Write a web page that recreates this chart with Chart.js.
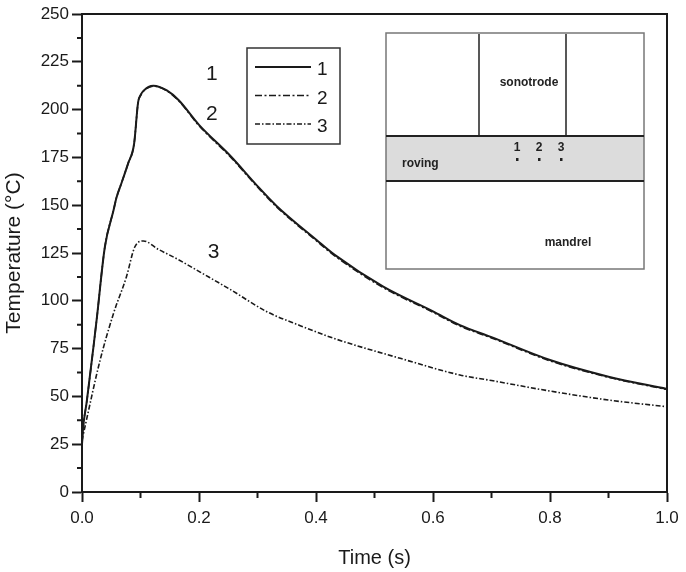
<!DOCTYPE html>
<html>
<head>
<meta charset="utf-8">
<script src="https://cdn.jsdelivr.net/npm/chart.js@4.4.1/dist/chart.umd.min.js"></script>
<style>
  body { margin: 0; background: #fff; }
  canvas { display: block; }
</style>
</head>
<body>
<canvas id="myChart" width="686" height="572"></canvas>
<script>
// Данные
let time1 = [0, 0.002, 0.008, 0.02, 0.025, 0.039, 0.054, 0.059, 0.068, 0.079, 0.089, 0.096, 0.1, 0.105, 0.122, 0.145, 0.165, 0.2, 0.253, 0.3, 0.333, 0.401, 0.432, 0.515, 0.6, 0.646, 0.7, 0.8, 0.9, 1.0];
let temp1 = [25, 34, 47, 77, 90, 128, 147.5, 154, 162, 172, 182, 204, 207.5, 209.8, 212.5, 210, 205, 192, 176, 160, 149.5, 131.8, 124, 107.4, 94.5, 87.3, 81, 69, 60.3, 53.9];
let temp2 = [25, 34, 47, 77, 90, 128, 147.5, 154, 162, 172, 182, 204, 207.3, 209.6, 212.3, 209.8, 204.7, 191.6, 175.5, 159.5, 149, 131.3, 123.5, 106.9, 94, 86.8, 80.6, 68.6, 60, 53.6];
let time3 = [0, 0.005, 0.031, 0.054, 0.076, 0.09, 0.105, 0.13, 0.165, 0.202, 0.253, 0.316, 0.373, 0.43, 0.544, 0.646, 0.7, 0.8, 0.9, 1.0];
let temp3 = [27, 34, 69, 93.5, 112.6, 128, 131.3, 127, 121.5, 115, 106, 94.3, 87, 80.4, 69.9, 61.2, 58.3, 52.8, 48.1, 44.6];
let seriesNames = ['1', '2', '3'];
let xTicks = [0, 0.2, 0.4, 0.6, 0.8, 1.0];
let yTicks = [0, 25, 50, 75, 100, 125, 150, 175, 200, 225, 250];
// Подписи кривых на поле графика
let curveLabels = [
  { text: '1', x: 0.222, y: 218.5 },
  { text: '2', x: 0.222, y: 197.5 },
  { text: '3', x: 0.225, y: 125.5 }
];

let canvasFirst = document.querySelector('#myChart');
let contextFirst = canvasFirst.getContext('2d');
let fontName = '"Liberation Sans", Arial, sans-serif';
let ink = '#1a1a1a';

let toPoints = (xs, ys) => xs.map((x, i) => ({ x: x, y: ys[i] }));

let dashes = [[], [7, 2.5, 2, 2.5], [5, 2, 1.5, 2]];

let extras = {
  id: 'extras',
  afterDraw(chart) {
    let ctx = chart.ctx;
    let a = chart.chartArea;
    let xs = chart.scales.x;
    let ys = chart.scales.y;
    ctx.save();
    // рамка
    ctx.strokeStyle = ink;
    ctx.lineWidth = 2;
    ctx.beginPath();
    ctx.moveTo(a.left, a.top);
    ctx.lineTo(a.right, a.top);
    ctx.lineTo(a.right, a.bottom);
    ctx.stroke();
    // мелкие деления
    ctx.beginPath();
    for (let v = 12.5; v < 250; v += 25) {
      let py = ys.getPixelForValue(v);
      ctx.moveTo(a.left - 5, py);
      ctx.lineTo(a.left, py);
    }
    for (let v = 0.1; v < 1; v += 0.2) {
      let px = xs.getPixelForValue(v);
      ctx.moveTo(px, a.bottom);
      ctx.lineTo(px, a.bottom + 6);
    }
    ctx.stroke();

    // подписи кривых
    ctx.fillStyle = ink;
    ctx.font = '21px ' + fontName;
    ctx.textAlign = 'center';
    ctx.textBaseline = 'middle';
    curveLabels.forEach(l => {
      ctx.fillText(l.text, xs.getPixelForValue(l.x), ys.getPixelForValue(l.y));
    });

    // легенда
    ctx.strokeStyle = '#333';
    ctx.lineWidth = 1.5;
    ctx.strokeRect(247, 48, 93, 96);
    ctx.font = '19px ' + fontName;
    ctx.textAlign = 'left';
    chart.data.datasets.forEach((ds, i) => {
      let ly = 67 + i * 28.5;
      ctx.strokeStyle = ink;
      ctx.lineWidth = ds.borderWidth;
      ctx.setLineDash(ds.borderDash);
      ctx.beginPath();
      ctx.moveTo(255, ly);
      ctx.lineTo(311, ly);
      ctx.stroke();
      ctx.setLineDash([]);
      ctx.fillText(ds.label, 317, ly + 3);
    });

    // схема
    ctx.fillStyle = '#dcdcdc';
    ctx.fillRect(386, 136, 258, 45);
    ctx.strokeStyle = '#777';
    ctx.lineWidth = 1.5;
    ctx.strokeRect(386, 33, 258, 236);
    ctx.strokeStyle = '#222';
    ctx.lineWidth = 2;
    ctx.beginPath();
    ctx.moveTo(386, 136); ctx.lineTo(644, 136);
    ctx.moveTo(386, 181); ctx.lineTo(644, 181);
    ctx.stroke();
    ctx.lineWidth = 1.5;
    ctx.beginPath();
    ctx.moveTo(479, 34); ctx.lineTo(479, 136);
    ctx.moveTo(566, 34); ctx.lineTo(566, 136);
    ctx.stroke();
    ctx.fillStyle = '#222';
    ctx.font = 'bold 12px ' + fontName;
    ctx.textAlign = 'center';
    ctx.fillText('sonotrode', 529, 83);
    ctx.fillText('mandrel', 568, 243);
    ctx.textAlign = 'left';
    ctx.fillText('roving', 402, 164);
    ctx.textAlign = 'center';
    [517, 539, 561].forEach((px, i) => {
      ctx.fillText(seriesNames[i], px, 148);
      ctx.fillRect(px - 1, 158, 2.5, 3);
    });
    ctx.restore();
  }
};

let config = {
  type: 'line',
  data: {
    datasets: [
      { label: seriesNames[0], data: toPoints(time1, temp1), borderColor: ink, borderWidth: 2, borderDash: dashes[0] },
      { label: seriesNames[1], data: toPoints(time1, temp2), borderColor: ink, borderWidth: 1.6, borderDash: dashes[1] },
      { label: seriesNames[2], data: toPoints(time3, temp3), borderColor: ink, borderWidth: 1.6, borderDash: dashes[2] }
    ]
  },
  options: {
    responsive: false,
    animation: false,
    elements: { point: { radius: 0 }, line: { cubicInterpolationMode: 'monotone', fill: false } },
    layout: { padding: { left: 0, right: 19, top: 14, bottom: 0 } },
    scales: {
      x: {
        type: 'linear',
        min: 0,
        max: 1,
        afterFit: s => { s.height = 80; },
        afterBuildTicks: s => { s.ticks = xTicks.map(v => ({ value: v })); },
        ticks: {
          color: ink,
          font: { family: fontName, size: 17 },
          padding: 6,
          maxRotation: 0,
          callback: v => v.toFixed(1)
        },
        grid: { drawOnChartArea: false, tickLength: 10, tickWidth: 2, tickColor: ink },
        border: { color: ink, width: 2 },
        title: {
          display: true,
          text: 'Time (s)',
          color: ink,
          font: { family: fontName, size: 20 },
          padding: { top: 0, bottom: 2 }
        }
      },
      y: {
        min: 0,
        max: 250,
        afterFit: s => { s.width = 82; },
        afterBuildTicks: s => { s.ticks = yTicks.map(v => ({ value: v })); },
        ticks: {
          color: ink,
          font: { family: fontName, size: 17 },
          padding: 3
        },
        grid: { drawOnChartArea: false, tickLength: 10, tickWidth: 2, tickColor: ink },
        border: { color: ink, width: 2 },
        title: {
          display: true,
          text: 'Temperature (°C)',
          color: ink,
          font: { family: fontName, size: 21 },
          padding: { top: 2, bottom: 0 }
        }
      }
    },
    plugins: {
      legend: { display: false },
      tooltip: { enabled: false }
    }
  },
  plugins: [extras]
};

let chart = new Chart(contextFirst, config);
</script>
</body>
</html>
